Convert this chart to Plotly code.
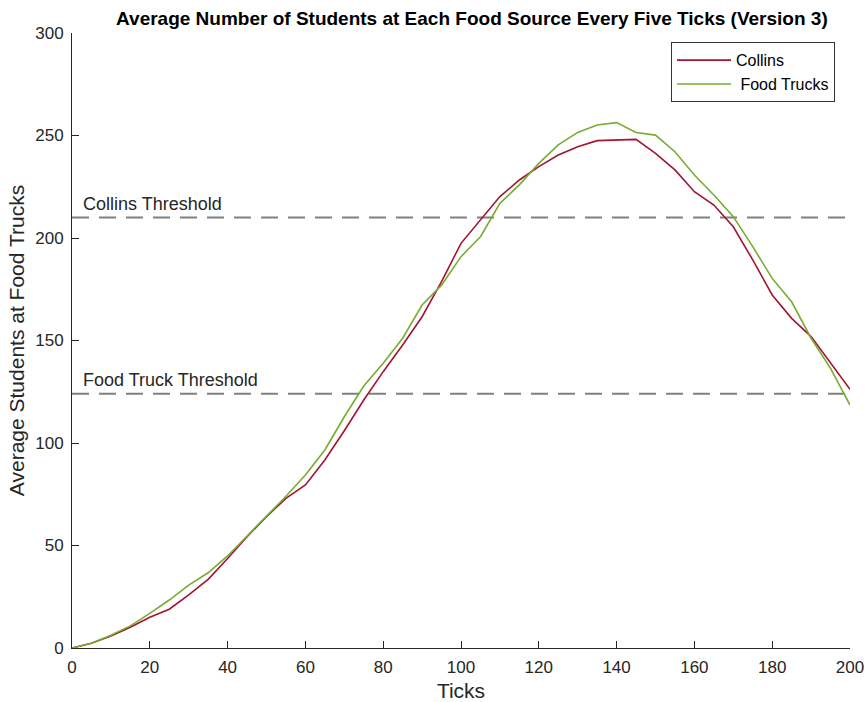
import plotly.graph_objects as go

# ticks sampled every five ticks
ticks = list(range(0, 205, 5))

collins = [0, 2.3, 5.9, 10.1, 15.0, 18.9, 25.9, 33.5, 43.7, 54.3,
           64.1, 73.0, 79.5, 91.7, 106.0, 121.0, 134.8, 147.8, 161.6, 178.7,
           197.4, 208.8, 220.2, 228.3, 234.8, 240.5, 244.5, 247.5, 247.8, 248.1,
           241.3, 233.2, 222.6, 216.1, 205.5, 189.3, 172.2, 160.8, 151.9, 138.9,
           126.2]
food_trucks = [0, 2.3, 6.2, 10.8, 16.9, 23.4, 30.7, 36.7, 44.9, 54.6,
               64.4, 74.0, 84.4, 96.6, 112.8, 127.8, 138.9, 151.1, 167.3, 177.0,
               190.9, 200.6, 216.9, 225.9, 236.4, 245.4, 251.5, 255.1, 256.3, 251.5,
               250.2, 242.1, 230.7, 221.0, 210.4, 195.8, 180.3, 168.9, 151.1, 136.4,
               118.5]

collins_threshold = 210
food_truck_threshold = 124

ink = "#262626"
font_family = "Liberation Sans, Arial, Helvetica, sans-serif"

fig = go.Figure()
fig.add_trace(go.Scatter(x=ticks, y=collins, mode="lines", name="Collins",
                         line=dict(color="#A2142F", width=1.6)))
fig.add_trace(go.Scatter(x=ticks, y=food_trucks, mode="lines", name=" Food Trucks",
                         line=dict(color="#77AC30", width=1.6)))

# threshold lines and their labels
for level, label in [(collins_threshold, "Collins Threshold"),
                     (food_truck_threshold, "Food Truck Threshold")]:
    fig.add_shape(type="line", xref="x", yref="y", x0=0, x1=200, y0=level, y1=level,
                  line=dict(color="#808080", width=2, dash="17px,10px"), layer="below")
    fig.add_annotation(x=2.2, y=level, xref="x", yref="y", text=label, showarrow=False,
                       xanchor="left", yanchor="bottom", yshift=2,
                       font=dict(size=18, color=ink, family=font_family))

fig.update_layout(
    width=865, height=702,
    margin=dict(l=72, r=15, t=33, b=54),
    paper_bgcolor="white", plot_bgcolor="white",
    font=dict(family=font_family, color=ink, size=17),
    title=dict(text="<b>Average Number of Students at Each Food Source Every Five Ticks (Version 3)</b>",
               xref="paper", x=0.514, xanchor="center", y=0.974, yanchor="middle",
               font=dict(size=19, color="black")),
    legend=dict(x=0.9807, y=0.985, xanchor="right", yanchor="top",
                bgcolor="white", bordercolor="#333333", borderwidth=1,
                font=dict(size=16, color="black"), tracegroupgap=0, itemwidth=54),
    showlegend=True,
)
fig.update_xaxes(range=[0, 200], tick0=0, dtick=20, ticks="inside", ticklen=7,
                 showline=True, linecolor=ink, linewidth=1, tickcolor=ink,
                 showgrid=False, zeroline=False, mirror=False, automargin=False,
                 ticklabelstandoff=4,
                 title=dict(text="Ticks", font=dict(size=21), standoff=7),
                 tickfont=dict(size=17))
fig.update_yaxes(range=[0, 300], tick0=0, dtick=50, ticks="inside", ticklen=7,
                 showline=True, linecolor=ink, linewidth=1, tickcolor=ink,
                 showgrid=False, zeroline=False, mirror=False, automargin=False,
                 ticklabelstandoff=4,
                 title=dict(text="Average Students at Food Trucks", font=dict(size=21), standoff=4),
                 tickfont=dict(size=17))

# drop the default page margin so the figure fills the window exactly
fig.write_html("out.html", config={"displayModeBar": False},
               post_script="document.body.style.margin='0';document.body.style.overflow='hidden';")
